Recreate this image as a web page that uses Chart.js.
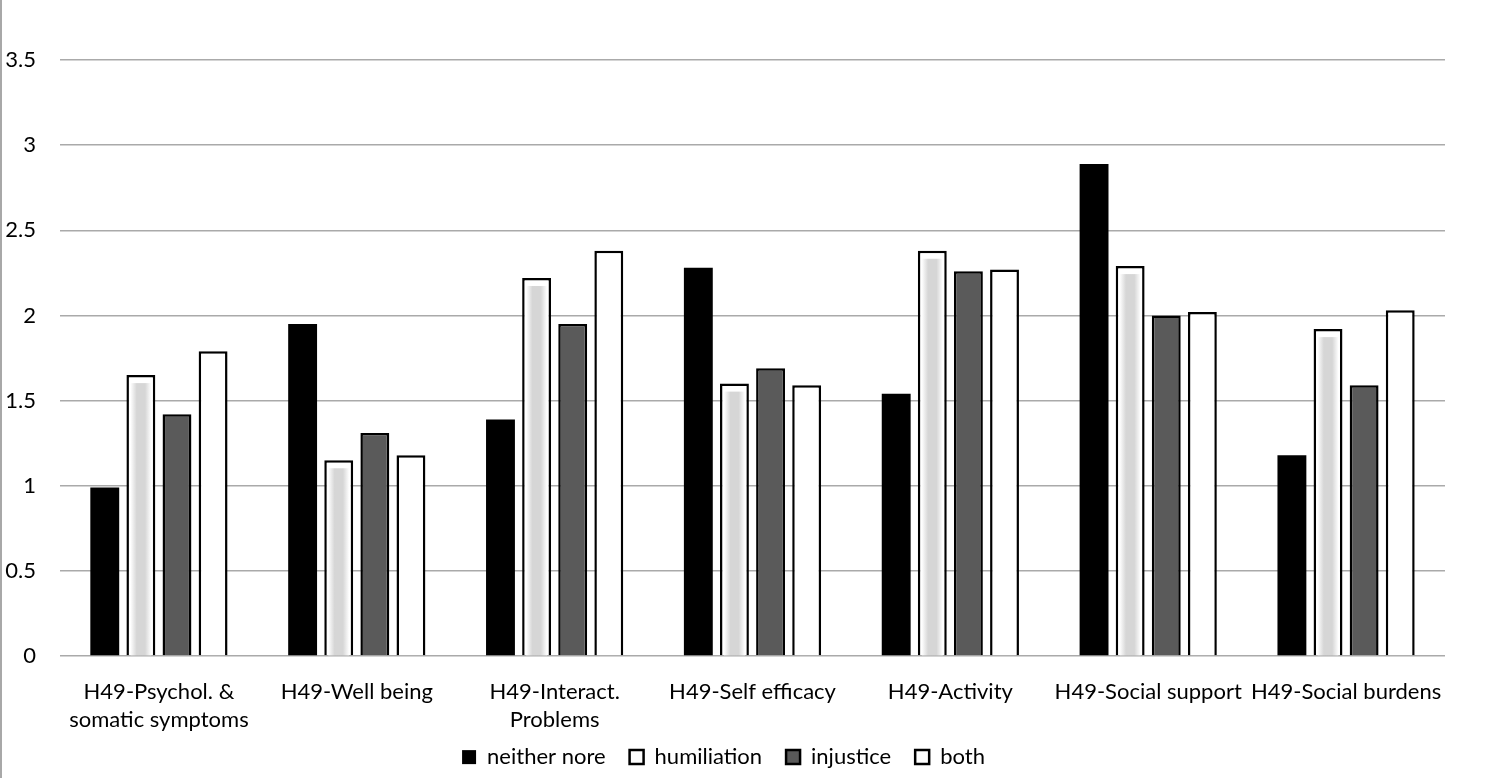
<!DOCTYPE html>
<html>
<head>
<meta charset="utf-8">
<script src="https://cdn.jsdelivr.net/npm/chart.js@4/dist/chart.umd.min.js"></script>
<style>
  html, body { margin: 0; padding: 0; background: #fff; }
  #wrap { width: 1483px; height: 778px; border-left: 2px solid #a8a8a8; }
</style>
</head>
<body>
<div id="wrap"><canvas id="groupChart" width="1483" height="778"></canvas></div>
<script>
const categories = [
    ["H49-Psychol. &", "somatic symptoms"],
    "H49-Well being",
    ["H49-Interact.", "Problems"],
    "H49-Self efficacy",
    "H49-Activity",
    "H49-Social support",
    "H49-Social burdens"
];
const neitherNore = [0.99, 1.95, 1.39, 2.28, 1.54, 2.89, 1.18];
const humiliation = [1.65, 1.15, 2.22, 1.60, 2.38, 2.29, 1.92];
const injustice   = [1.42, 1.31, 1.95, 1.69, 2.26, 2.00, 1.59];
const both        = [1.79, 1.18, 2.38, 1.59, 2.27, 2.02, 2.03];
const yTicks = [0, 0.5, 1, 1.5, 2, 2.5, 3, 3.5];
const yTickLabels = ["0", "0.5", "1", "1.5", "2", "2.5", "3", "3.5"];

const fontFamily = "Lato, 'Open Sans', sans-serif";

// light grey strip painted inside the humiliation bars
const stripPlugin = {
    id: "strip",
    afterDatasetDraw(chart, args) {
        if (args.index !== 1) return;
        const c = chart.ctx;
        args.meta.data.forEach(function (bar) {
            const p = bar.getProps(["x", "y", "base", "width"], true);
            const left = p.x - p.width / 2 + 4;
            const w = p.width - 8;
            const g = c.createLinearGradient(left, 0, left + w, 0);
            g.addColorStop(0, "rgba(255,255,255,1)");
            g.addColorStop(0.3, "#d6d6d6");
            g.addColorStop(0.7, "#d6d6d6");
            g.addColorStop(1, "rgba(255,255,255,1)");
            c.save();
            c.fillStyle = g;
            c.fillRect(left, p.y + 8, w, p.base - p.y - 8);
            c.restore();
        });
    }
};

// keep the legend row close under the category labels
const legendShift = {
    id: "legendShift",
    afterLayout(chart) {
        const lg = chart.legend;
        if (!lg) return;
        const dy = (chart.chartArea.bottom + 66) - lg.top;
        lg.top += dy;
        lg.bottom += dy;
    }
};

document.addEventListener("DOMContentLoaded", function () {
    const ctx = document.getElementById("groupChart").getContext("2d");
    if ("textRendering" in ctx) ctx.textRendering = "optimizeSpeed";

    new Chart(ctx, {
        type: "bar",
        data: {
            labels: categories,
            datasets: [
                { label: "neither nore", data: neitherNore, backgroundColor: "#000000", borderColor: "#000000", borderWidth: 0 },
                { label: "humiliation", data: humiliation, backgroundColor: "#ffffff", borderColor: "#000000", borderWidth: 2.5 },
                { label: "injustice", data: injustice, backgroundColor: "#5a5a5a", borderColor: "#000000", borderWidth: 2.5 },
                { label: "both", data: both, backgroundColor: "#ffffff", borderColor: "#000000", borderWidth: 2.5 }
            ]
        },
        options: {
            responsive: false,
            animation: false,
            layout: { padding: { top: 60, right: 40, left: 0, bottom: -26 } },
            datasets: { bar: { categoryPercentage: 0.73, barPercentage: 0.8 } },
            plugins: {
                tooltip: { enabled: false },
                legend: {
                    position: "bottom",
                    labels: {
                        color: "#000",
                        font: { family: fontFamily, size: 22 },
                        boxWidth: 14,
                        boxHeight: 14,
                        padding: 24
                    }
                }
            },
            scales: {
                x: {
                    grid: { display: false },
                    border: { display: false },
                    ticks: {
                        color: "#000",
                        font: { family: fontFamily, size: 22, lineHeight: 1.27 },
                        maxRotation: 0,
                        autoSkip: false,
                        padding: 14
                    }
                },
                y: {
                    min: 0,
                    max: 3.5,
                    afterFit: function (scale) { scale.width = 58; },
                    afterBuildTicks: function (scale) {
                        scale.ticks = yTicks.map(function (v) { return { value: v }; });
                    },
                    grid: { color: "#aaaaaa", lineWidth: 1.5, drawTicks: false },
                    border: { display: false },
                    ticks: {
                        color: "#000",
                        font: { family: fontFamily, size: 22 },
                        padding: 24,
                        callback: function (value, index) { return yTickLabels[index]; }
                    }
                }
            }
        },
        plugins: [stripPlugin, legendShift]
    });
});
</script>
</body>
</html>
